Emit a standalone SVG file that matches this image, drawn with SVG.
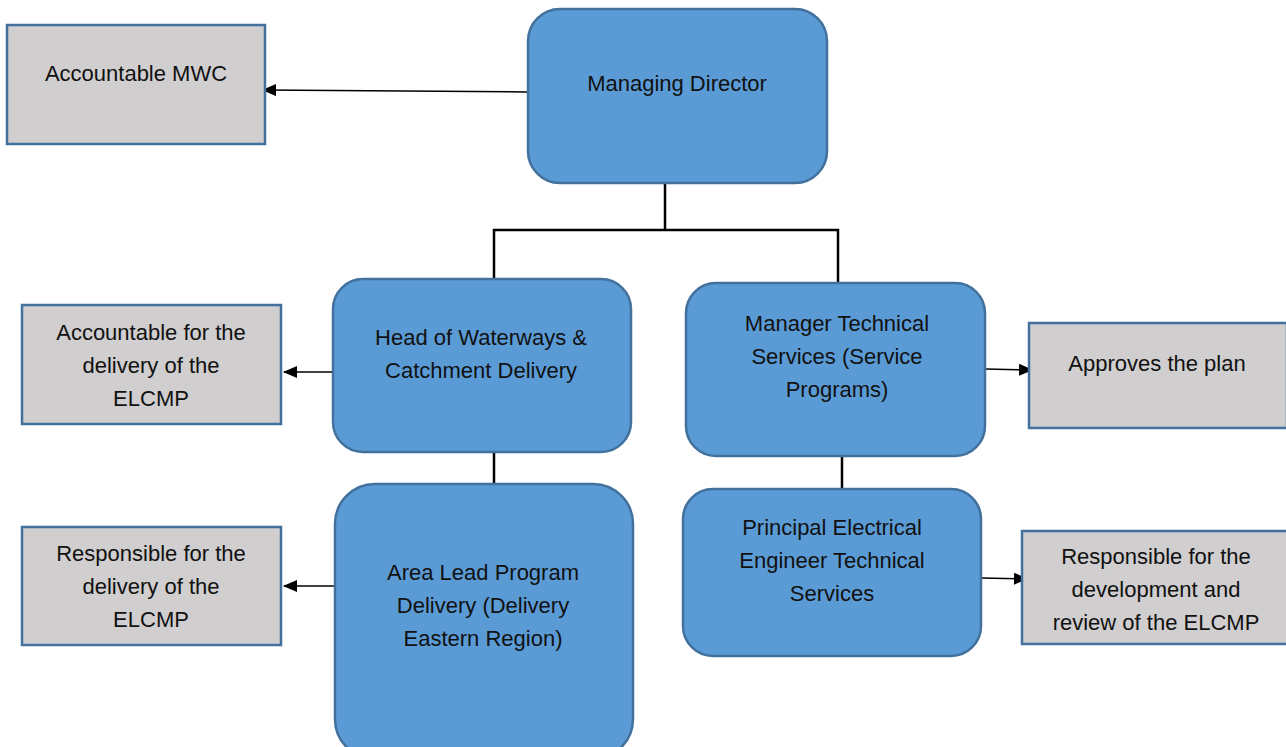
<svg xmlns="http://www.w3.org/2000/svg" width="1286" height="747" viewBox="0 0 1286 747">
  <style>
    .role { fill: #5B9BD5; stroke: #41719C; stroke-width: 2.5; }
    .note { fill: #D0CECE; stroke: #41719C; stroke-width: 2.5; }
    .label { font-family: "Liberation Sans", Arial, sans-serif; font-size: 22px; fill: #111; text-anchor: middle; }
    .tree { fill: none; stroke: #000; stroke-width: 2.5; }
    .arrow { fill: none; stroke: #000; stroke-width: 1.5; marker-end: url(#head); }
  </style>
  <defs>
    <marker id="head" viewBox="0 0 14 12" refX="13" refY="6" markerWidth="14" markerHeight="12" markerUnits="userSpaceOnUse" orient="auto">
      <path d="M0,0 L14,6 L0,12 z" fill="#000"/>
    </marker>
  </defs>
  <rect width="1286" height="747" fill="#fff"/>

  <!-- connectors -->
  <g id="connectors">
    <polyline class="tree" points="665,183 665,230"/>
    <polyline class="tree" points="494,279 494,230 838,230 838,283"/>
    <line class="tree" x1="494" y1="452" x2="494" y2="484"/>
    <line class="tree" x1="842" y1="456" x2="842" y2="489"/>
    <path class="arrow" d="M527,92 L263,90"/>
    <path class="arrow" d="M333,372 L284,372"/>
    <path class="arrow" d="M335,586 L284,586"/>
    <path class="arrow" d="M986,369 L1032,370"/>
    <path class="arrow" d="M981,578 L1027,579"/>
  </g>

  <g id="accountable-mwc">
    <rect class="note" x="7" y="25" width="258" height="119"/>
    <text class="label" x="136" y="81">Accountable MWC</text>
  </g>

  <g id="managing-director">
    <rect class="role" x="528" y="9" width="299" height="174" rx="32"/>
    <text class="label" x="677" y="91">Managing Director</text>
  </g>

  <g id="head-waterways">
    <rect class="role" x="333" y="279" width="298" height="173" rx="30"/>
    <text class="label" x="481" y="345">Head of Waterways &amp;</text>
    <text class="label" x="481" y="378">Catchment Delivery</text>
  </g>

  <g id="accountable-delivery">
    <rect class="note" x="22" y="305" width="259" height="119"/>
    <text class="label" x="151" y="340">Accountable for the</text>
    <text class="label" x="151" y="373">delivery of the</text>
    <text class="label" x="151" y="406">ELCMP</text>
  </g>

  <g id="area-lead">
    <rect class="role" x="335" y="484" width="298" height="275" rx="40"/>
    <text class="label" x="483" y="580">Area Lead Program</text>
    <text class="label" x="483" y="613">Delivery (Delivery</text>
    <text class="label" x="483" y="646">Eastern Region)</text>
  </g>

  <g id="responsible-delivery">
    <rect class="note" x="22" y="527" width="259" height="118"/>
    <text class="label" x="151" y="561">Responsible for the</text>
    <text class="label" x="151" y="594">delivery of the</text>
    <text class="label" x="151" y="627">ELCMP</text>
  </g>

  <g id="manager-technical">
    <rect class="role" x="686" y="283" width="299" height="173" rx="30"/>
    <text class="label" x="837" y="331">Manager Technical</text>
    <text class="label" x="837" y="364">Services (Service</text>
    <text class="label" x="837" y="397">Programs)</text>
  </g>

  <g id="approves-plan">
    <rect class="note" x="1029" y="323" width="258" height="105"/>
    <text class="label" x="1157" y="371">Approves the plan</text>
  </g>

  <g id="principal-engineer">
    <rect class="role" x="683" y="489" width="298" height="167" rx="30"/>
    <text class="label" x="832" y="535">Principal Electrical</text>
    <text class="label" x="832" y="568">Engineer Technical</text>
    <text class="label" x="832" y="601">Services</text>
  </g>

  <g id="responsible-development">
    <rect class="note" x="1022" y="531" width="266" height="113"/>
    <text class="label" x="1156" y="564">Responsible for the</text>
    <text class="label" x="1156" y="597">development and</text>
    <text class="label" x="1156" y="630">review of the ELCMP</text>
  </g>
</svg>
